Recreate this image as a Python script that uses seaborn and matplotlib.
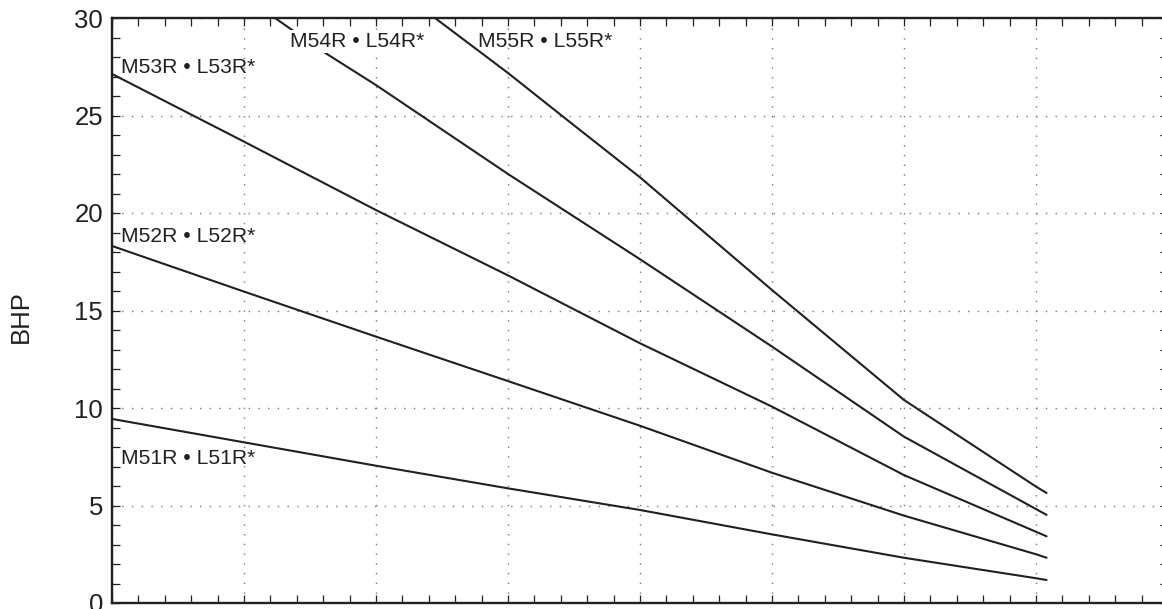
import matplotlib
matplotlib.use('Agg')
import matplotlib.pyplot as plt
import numpy as np
import pandas as pd
import seaborn as sns
from matplotlib.ticker import MultipleLocator, NullFormatter

# curve values (x in grid units, y in BHP)
x_51 = [0, 1, 2, 3, 4, 5, 6, 7, 7.08]
bhp_51 = [9.44, 8.24, 7.04, 5.88, 4.77, 3.52, 2.32, 1.27, 1.18]

x_52 = [0, 1, 2, 3, 4, 5, 6, 7, 7.08]
bhp_52 = [18.31, 15.97, 13.66, 11.38, 9.09, 6.68, 4.48, 2.50, 2.32]

x_53 = [0, 1, 2, 3, 4, 5, 6, 7.08]
bhp_53 = [27.13, 23.66, 20.15, 16.80, 13.32, 10.07, 6.56, 3.42]

x_54 = [1.235, 1.58, 2, 3, 4, 5, 6, 7.08]
bhp_54 = [30.0, 28.36, 26.56, 22.0, 17.63, 13.15, 8.53, 4.52]

x_55 = [2.447, 3, 3.43, 4, 5, 6, 7, 7.08]
bhp_55 = [30.0, 27.18, 24.87, 21.83, 16.05, 10.41, 5.97, 5.64]

models = ['M51R • L51R*', 'M52R • L52R*', 'M53R • L53R*', 'M54R • L54R*', 'M55R • L55R*']
y_ticks = [0, 5, 10, 15, 20, 25, 30]

ink = '#231f20'

sns.set_style('ticks')
plt.rcParams['font.family'] = ['Liberation Sans', 'DejaVu Sans']

frames = []
for name, xs, ys in zip(models, [x_51, x_52, x_53, x_54, x_55],
                        [bhp_51, bhp_52, bhp_53, bhp_54, bhp_55]):
    frames.append(pd.DataFrame({'x': xs, 'bhp': ys, 'model': name}))
df = pd.concat(frames, ignore_index=True)

fig = plt.figure(figsize=(11.62, 6.09), dpi=100)
ax = fig.add_axes([112 / 1162, 6 / 609, 1056 / 1162, 585 / 609])

sns.lineplot(data=df, x='x', y='bhp', hue='model', palette=[ink] * 5,
             estimator=None, sort=False, legend=False, linewidth=1.5, ax=ax)

ax.set_xlim(0, 8)
ax.set_ylim(0, 30)
ax.xaxis.set_major_locator(MultipleLocator(1))
ax.xaxis.set_minor_locator(MultipleLocator(0.2))
ax.xaxis.set_major_formatter(NullFormatter())
ax.set_yticks(y_ticks)
ax.yaxis.set_minor_locator(MultipleLocator(1))

ax.tick_params(which='both', direction='in', top=True, right=True,
               length=5.5, width=0.9, color=ink)
ax.tick_params(axis='y', labelsize=18.5, pad=6.5, labelcolor=ink)
ax.grid(True, which='major', linestyle=(0, (1, 6)), color='#777777', linewidth=1.0)
for sp in ax.spines.values():
    sp.set_linewidth(1.7)
    sp.set_color(ink)

ax.set_xlabel('')
ax.set_ylabel('BHP', fontsize=18.5, color=ink)
ax.yaxis.set_label_coords(-0.0745, 0.49)

# curve labels
label_pos = [(0.065, 7.11), (0.065, 18.53), (0.065, 27.19), (1.345, 28.53), (2.77, 28.53)]
for name, (lx, ly) in zip(models, label_pos):
    t = ax.text(lx, ly, name, fontsize=15.2, color=ink, ha='left', va='baseline', zorder=5)
    if name.startswith('M54'):
        t.set_bbox(dict(facecolor='white', edgecolor='none', pad=1.5))

fig.savefig('out.png', dpi=100)
